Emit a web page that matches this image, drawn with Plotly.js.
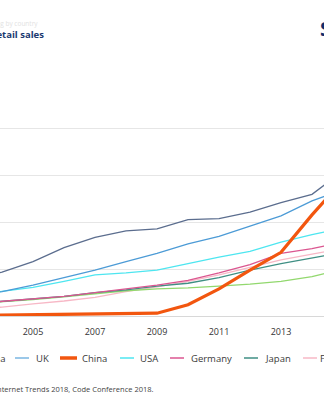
<!DOCTYPE html>
<html><head><meta charset="utf-8">
<script src="https://cdn.plot.ly/plotly-3.0.1.min.js"></script>
<style>
html,body{margin:0;padding:0;overflow:hidden;width:324px;height:400px;background:#fff}
#chart{position:absolute;left:-133px;top:0;width:594px;height:400px}
</style>
</head><body><div id="chart"></div>
<script>
// ---- data (share of retail sales, %) ----
const years      = [2003,2004,2005,2006,2007,2008,2009,2010,2011,2012,2013,2014,2015,2016,2017];
const southKorea = [3.7, 4.7, 5.8, 7.3, 8.4, 9.1, 9.3,10.3,10.4,11.1,12.1,13.0,15.5,18.0,20.5];
const uk         = [2.1, 2.6, 3.3, 4.1, 4.9, 5.8, 6.7, 7.7, 8.5, 9.6,10.7,12.3,13.5,15.0,16.5];
const china      = [0.05,0.1, 0.1, 0.15,0.2, 0.25,0.3, 1.2, 2.9, 4.9, 6.8,10.8,14.5,17.5,20.0];
const usa        = [2.2, 2.6, 3.05,3.7, 4.4, 4.6, 4.9, 5.6, 6.3, 6.9, 7.9, 8.7, 9.4,10.2,11.0];
const germany    = [1.3, 1.55,1.8, 2.1, 2.5, 2.9, 3.3, 3.8, 4.6, 5.5, 6.7, 7.2, 7.9, 8.5, 9.1];
const japan      = [1.3, 1.55,1.8, 2.1, 2.5, 2.8, 3.2, 3.5, 4.1, 4.9, 5.6, 6.2, 6.8, 7.4, 8.0];
const france     = [0.7, 0.95,1.3, 1.6, 2.0, 2.6, 3.1, 3.7, 4.4, 5.2, 6.0, 6.6, 7.2, 7.8, 8.4];
const canada     = [1.3, 1.5, 1.75,2.05,2.4, 2.7, 2.9, 3.0, 3.2, 3.4, 3.7, 4.2, 5.0, 5.6, 6.2];
const xTicks     = [2005,2007,2009,2011,2013,2015];
const legendNames= ["South Korea","UK","China","USA","Germany","Japan","France","Canada"];

// ---- layout geometry ----
const OFFSET = 133, W = 594, H = 400;
const ML = 100, MR = 50, MT = 82, MB = 84;
const plotW = W - ML - MR, plotH = H - MT - MB;
const plotLeftPage = ML - OFFSET;
const YEAR_PX = 31, REF_YEAR = 2005, REF_PX = 33;
const x0 = REF_YEAR + (plotLeftPage - REF_PX) / YEAR_PX;
const x1 = x0 + plotW / YEAR_PX;
const px = p => (p - plotLeftPage) / plotW;
const py = p => (H - MB - p) / plotH;

const styles = {
  "South Korea": {color:"#5b6d8e", width:1.3},
  "UK":          {color:"#4c9bd6", width:1.3},
  "China":       {color:"#f2560f", width:3.2},
  "USA":         {color:"#4ee6f0", width:1.3},
  "Germany":     {color:"#db5690", width:1.3},
  "Japan":       {color:"#3f8f84", width:1.3},
  "France":      {color:"#f7b8c6", width:1.3},
  "Canada":      {color:"#92d86e", width:1.3}
};
const seriesData = {"South Korea":southKorea,"UK":uk,"China":china,"USA":usa,
  "Germany":germany,"Japan":japan,"France":france,"Canada":canada};
const drawOrder = ["France","Canada","Japan","Germany","USA","UK","South Korea","China"];

const traces = drawOrder.map(n => ({
  x: years, y: seriesData[n], name: n, type: "scatter", mode: "lines",
  line: {color: styles[n].color, width: styles[n].width}, hoverinfo: "skip"
}));

// custom legend (page pixel positions)
const legendPos = {
  "South Korea": {sym:[-70,-56], txt:-51},
  "UK":          {sym:[15,29],   txt:34},
  "China":       {sym:[60,77],   txt:80},
  "USA":         {sym:[120,134], txt:138},
  "Germany":     {sym:[170,184], txt:189},
  "Japan":       {sym:[244,258], txt:263},
  "France":      {sym:[303,317], txt:318},
  "Canada":      {sym:[365,379], txt:384}
};
const LEG_Y = 358;
const shapes = legendNames.map(n => ({
  type:"line", xref:"paper", yref:"paper",
  x0: px(legendPos[n].sym[0]), x1: px(legendPos[n].sym[1]),
  y0: py(LEG_Y), y1: py(LEG_Y),
  line:{color: n==="UK" ? "#7ab6e2" : styles[n].color, width: n==="China" ? 3.5 : 1.5}
}));
const annotations = legendNames.map(n => ({
  xref:"paper", yref:"paper", x: px(legendPos[n].txt), y: py(LEG_Y),
  xanchor:"left", yanchor:"middle", showarrow:false, text:n,
  font:{family:"Open Sans", size:9.5, color:"#3a3a3a"}
}));
annotations.push(
  {xref:"paper", yref:"paper", x:px(46), y:py(34), xanchor:"right", yanchor:"middle",
   showarrow:false, text:"<b>E-commerce as a share of total retail sales</b>",
   font:{family:"Open Sans", size:9.5, color:"#1b3a70"}},
  {xref:"paper", yref:"paper", x:px(40), y:py(23), xanchor:"right", yanchor:"middle",
   showarrow:false, text:"Online shopping by country",
   font:{family:"Open Sans", size:6.5, color:"#e2e2e2"}},
  {xref:"paper", yref:"paper", x:px(318), y:py(29), xanchor:"left", yanchor:"middle",
   showarrow:false, text:"<b>Statista</b>",
   font:{family:"Open Sans", size:20, color:"#0f2d6b"}},
  {xref:"paper", yref:"paper", x:px(156), y:py(389), xanchor:"right", yanchor:"middle",
   showarrow:false, text:"Source: Mary Meeker, Internet Trends 2018, Code Conference 2018.",
   font:{family:"Open Sans", size:7.5, color:"#444"}}
);

const layout = {
  width: W, height: H, margin:{l:ML, r:MR, t:MT, b:MB, pad:0},
  paper_bgcolor:"#fff", plot_bgcolor:"#fff", showlegend:false,
  font:{family:"Open Sans", color:"#333"},
  xaxis:{range:[x0,x1], tickvals:xTicks, ticktext:xTicks.map(String), showgrid:false,
         zeroline:false, showline:false, ticks:"outside", ticklen:7,
         tickcolor:"rgba(0,0,0,0)", tickfont:{size:9, color:"#333"}},
  yaxis:{range:[0,25], dtick:5, gridcolor:"#e6e6e6", gridwidth:1, zeroline:true,
         zerolinecolor:"#d8d8d8", zerolinewidth:1, showline:false, ticks:"",
         showticklabels:false},
  shapes: shapes, annotations: annotations
};
Plotly.newPlot("chart", traces, layout, {staticPlot:true, displayModeBar:false});
</script>
</body></html>
